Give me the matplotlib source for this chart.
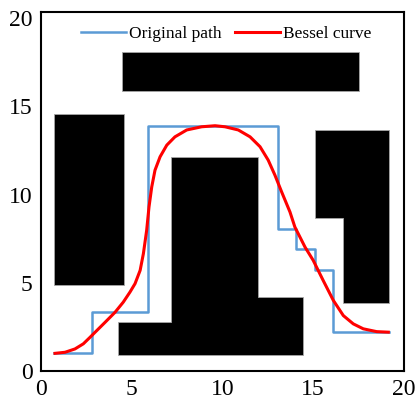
import matplotlib.pyplot as plt
from matplotlib.patches import Polygon

plt.rcParams['font.family'] = ['Liberation Serif', 'DejaVu Serif']

# original path (grid route)
path_x = [0.73, 2.83, 2.83, 5.91, 5.91, 13.04, 13.04, 14.03, 14.03, 15.1, 15.1, 16.1, 16.1, 19.19]
path_y = [1.01, 1.01, 3.36, 3.36, 13.89, 13.89, 8.06, 8.06, 6.9, 6.9, 5.71, 5.71, 2.23, 2.23]

# smoothed curve
curve_x = [0.77, 1.32, 1.87, 2.33, 2.70, 3.07, 3.53, 4.08, 4.53, 4.90, 5.18, 5.46, 5.64,
           5.82, 5.95, 6.10, 6.28, 6.56, 6.93, 7.38, 8.03, 8.85, 9.59, 10.14, 10.87, 11.52,
           12.07, 12.52, 12.89, 13.26, 13.72, 13.99, 14.55, 15.00, 15.55, 16.11, 16.66,
           17.21, 17.76, 18.50, 19.14]
curve_y = [1.01, 1.07, 1.26, 1.55, 1.92, 2.30, 2.77, 3.34, 3.91, 4.48, 4.96, 5.71, 6.66,
           7.98, 9.31, 10.44, 11.39, 12.15, 12.81, 13.28, 13.67, 13.85, 13.91, 13.85, 13.67,
           13.28, 12.72, 11.96, 11.11, 10.16, 9.02, 8.17, 7.03, 6.28, 5.14, 4.01, 3.15,
           2.68, 2.40, 2.24, 2.21]

# obstacles as outlines
obstacles = [
    [(4.45, 15.88), (17.5, 15.88), (17.5, 18.11), (4.45, 18.11)],
    [(0.73, 4.86), (4.56, 4.86), (4.56, 14.59), (0.73, 14.59)],
    [(15.1, 13.66), (19.2, 13.66), (19.2, 3.88), (16.66, 3.88), (16.66, 8.70), (15.1, 8.70)],
    [(4.22, 0.94), (14.45, 0.94), (14.45, 4.23), (11.97, 4.23), (11.97, 12.11),
     (7.15, 12.11), (7.15, 2.81), (4.22, 2.81)],
]

fig = plt.figure(figsize=(4.19, 4.03), dpi=100)
ax = fig.add_axes([0.098, 0.079, 0.866, 0.891])

for pts in obstacles:
    ax.add_patch(Polygon(pts, closed=True, facecolor='black', edgecolor='#a6a6a6', linewidth=0.6))

ax.plot(path_x, path_y, color='#5b9bd5', linewidth=1.8, label='Original path')
ax.plot(curve_x, curve_y, color='#ff0000', linewidth=2.2, label='Bessel curve',
        solid_joinstyle='round')

ax.set_xlim(0, 20)
ax.set_ylim(0, 20.35)
ax.set_xticks([0, 5, 10, 15, 20])
ax.set_yticks([0, 5, 10, 15, 20])
ax.tick_params(length=0, labelsize=17, pad=6)
for s in ax.spines.values():
    s.set_linewidth(1.5)

ax.legend(loc='center', bbox_to_anchor=(0.51, 0.94), ncol=2, frameon=False, fontsize=12.5,
          handlelength=2.6, handletextpad=0.15, columnspacing=0.8)

plt.savefig('out.png')
